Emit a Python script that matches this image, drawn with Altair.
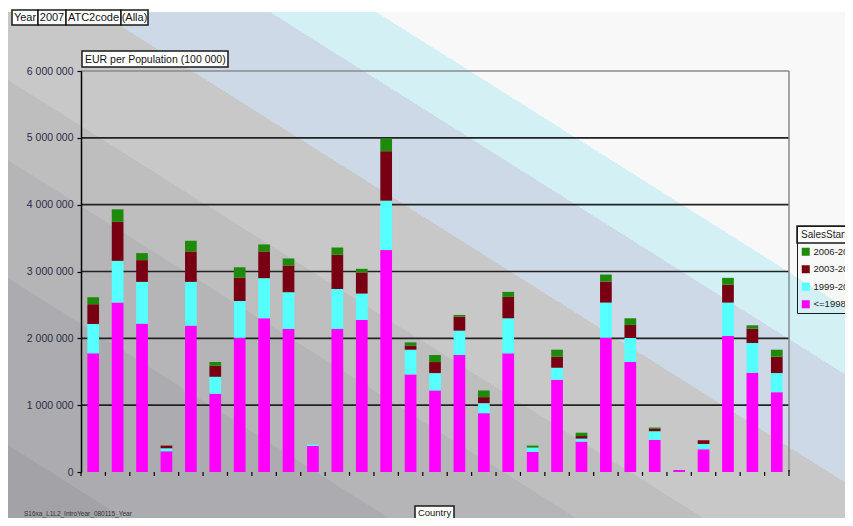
import altair as alt
import pandas as pd

# ---------------- data ----------------
countries = ["All", "AT", "BE", "BG", "CH", "CZ", "DE", "DK", "E13", "EE", "ES", "FI", "FR",
             "GB", "GR", "HU", "IE", "IT", "LT", "LU", "LV", "NL", "NO", "PL", "PT", "RO",
             "SE", "SI", "SK"]
sales_start = ["<=1998", "1999-2002", "2003-2005", "2006-2007"]
v_le1998 = [1775000, 2535000, 2220000, 310000, 2190000, 1170000, 2010000, 2300000, 2140000,
            390000, 2140000, 2275000, 3320000, 1460000, 1220000, 1750000, 880000, 1775000,
            300000, 1380000, 455000, 2010000, 1645000, 480000, 30000, 340000, 2035000,
            1485000, 1195000]
v_1999 = [440000, 625000, 625000, 45000, 655000, 255000, 550000, 600000, 550000,
          20000, 600000, 395000, 740000, 370000, 260000, 365000, 150000, 525000,
          65000, 180000, 45000, 525000, 360000, 130000, 0, 80000, 500000,
          445000, 285000]
v_2003 = [295000, 585000, 325000, 40000, 455000, 165000, 345000, 400000, 400000,
          0, 510000, 315000, 740000, 60000, 165000, 210000, 90000, 320000,
          0, 165000, 38000, 315000, 195000, 35000, 0, 55000, 265000,
          215000, 245000]
v_2006 = [105000, 185000, 105000, 0, 160000, 55000, 160000, 105000, 105000,
          0, 110000, 55000, 190000, 50000, 105000, 25000, 100000, 75000,
          30000, 105000, 50000, 105000, 100000, 20000, 0, 0, 105000,
          50000, 105000]
series_colors = ["#ff00ff", "#55ffff", "#780012", "#1e8a0c"]
y_ticks = [0, 1000000, 2000000, 3000000, 4000000, 5000000, 6000000]
header_labels = ["Year", "2007", "ATC2code", "(Alla)"]
y_title = "EUR per Population (100 000)"
x_title = "Country"
legend_title = "SalesStart"
footnote = "S16xa_L1L2_IntroYear_080115_Year"

# ---------------- layout / style ----------------
W, H = 708, 401
PAD = {"left": 73, "top": 63, "right": 56, "bottom": 46}
FONT = "Liberation Sans"

rows = []
series_values = [v_le1998, v_1999, v_2003, v_2006]
for i, c in enumerate(countries):
    for k, s in enumerate(sales_start):
        rows.append({"Country": c, "SalesStart": s, "Value": series_values[k][i], "rank": k})
df = pd.DataFrame(rows)

yscale = alt.Scale(domain=[y_ticks[0], y_ticks[-1]], nice=False)
xscale = alt.Scale(domain=countries, paddingInner=0, paddingOuter=0)

y_axis = alt.Axis(title=None, values=y_ticks, grid=False, domainColor="black", domainWidth=1.5,
                  tickColor="black", tickSize=4, tickWidth=1.2, labelFont=FONT, labelFontSize=10.5,
                  labelColor="#2b2b45", labelPadding=4, zindex=1,
                  labelExpr="replace(replace(format(datum.value, ','), ',', ' '), ',', ' ')")

# ---- diagonal banded background (gradient) ----
X0, Y0 = 8, 12          # page coords of background rect
BW, BH = 837, 506
slope = 0.63
a = slope * BW / BH
k = (a + 1) / (a * a + 1)
def t_of(c):
    rhs = (c + slope * X0 - Y0) / BH
    return max(0.0, min(1.0, (1 - rhs) / (k * (a * a + 1))))
band_c = [440, 273, 155, 75, -50, -158, -225]
band_cols = ["#a3a3a7", "#acacb0", "#b5b5b8", "#bebebf", "#c8c8c8", "#cdd9e7", "#d3f1f4", "#f8f8f8"]
stops = [alt.GradientStop(offset=0, color=band_cols[0])]
for i, c in enumerate(band_c):
    t = t_of(c)
    stops.append(alt.GradientStop(offset=t, color=band_cols[i]))
    stops.append(alt.GradientStop(offset=t, color=band_cols[i + 1]))
stops.append(alt.GradientStop(offset=1, color=band_cols[-1]))
grad = alt.LinearGradient(gradient="linear", stops=stops, x1=0, y1=1, x2=a * k, y2=1 - k)

one = pd.DataFrame({"d": [0]})
ox, oy = PAD["left"] + 8, PAD["top"] + 8   # plot origin on page
bg = alt.Chart(one).mark_rect(fill=grad, strokeWidth=0).encode(
    x=alt.value(X0 - ox), x2=alt.value(X0 - ox + BW),
    y=alt.value(Y0 - oy), y2=alt.value(Y0 - oy + BH))

grid = alt.Chart(pd.DataFrame({"v": y_ticks[1:-1]})).mark_rule(color="#222222", strokeWidth=1.7).encode(
    y=alt.Y("v:Q", scale=yscale, axis=y_axis))
top_frame = alt.Chart(pd.DataFrame({"v": y_ticks[-1:]})).mark_rule(color="#8a8a8a", strokeWidth=1.5).encode(
    y=alt.Y("v:Q", scale=yscale, axis=y_axis))
right_frame = alt.Chart(one).mark_rule(color="#8a8a8a", strokeWidth=1.5).encode(
    x=alt.value(W), y=alt.value(0), y2=alt.value(H))

bars = alt.Chart(df).mark_bar(width=alt.RelativeBandSize(0.48)).encode(
    x=alt.X("Country:N", scale=xscale, sort=countries,
            axis=alt.Axis(title=None, labelAngle=0, ticks=False, domainColor="black", domainWidth=1.5,
                          labelFont=FONT, labelFontSize=10.5, labelColor="#222222", labelPadding=13,
                          grid=False, zindex=1)),
    y=alt.Y("Value:Q", stack="zero", scale=yscale, axis=y_axis),
    color=alt.Color("SalesStart:N",
                    scale=alt.Scale(domain=sales_start[::-1], range=series_colors[::-1]),
                    legend=alt.Legend(title=legend_title, orient="none", legendX=716, legendY=155,
                                      strokeColor="#1a1a1a", padding=4, titleFont=FONT, titleFontSize=10,
                                      titleFontWeight="normal", titleColor="#222", titlePadding=7,
                                      labelFont=FONT, labelFontSize=9.5, labelColor="#222", labelOffset=3,
                                      symbolType="square", symbolSize=64, symbolStrokeWidth=0,
                                      rowPadding=6.5, labelLimit=200)),
    order=alt.Order("rank:Q", sort="ascending"),
)

xticks = alt.Chart(pd.DataFrame({"Country": countries})).mark_rule(color="black", strokeWidth=1.2).encode(
    x=alt.X("Country:N", scale=xscale, sort=countries, bandPosition=0, axis=None),
    y=alt.value(H), y2=alt.value(H + 4))
xtick_end = alt.Chart(one).mark_rule(color="black", strokeWidth=1.2).encode(
    x=alt.value(W), y=alt.value(H - 2), y2=alt.value(H + 4))

def box(x0, x1, y0, y1, text, size=11, align="center", ty=None):
    d = pd.DataFrame({"t": [text]})
    r = alt.Chart(d).mark_rect(fill="white", stroke="#1a1a1a", strokeWidth=1.5).encode(
        x=alt.value(x0), x2=alt.value(x1), y=alt.value(y0), y2=alt.value(y1))
    tx = (x0 + x1) / 2 if align == "center" else x0 + 3
    tyv = (y0 + y1) / 2 + 0.5 if ty is None else ty
    t = alt.Chart(d).mark_text(align=align, baseline="middle", font=FONT, fontSize=size, color="#111").encode(
        x=alt.value(tx), y=alt.value(tyv), text="t:N")
    return [r, t]

layers = [bg, grid, top_frame, right_frame, bars, xticks, xtick_end]
hx = [-69, -43, -15, 40, 67]
for i, lab in enumerate(header_labels):
    layers += box(hx[i], hx[i + 1], -61, -46, lab, size=11)
layers += box(1, 147, -20, -4, y_title, size=10.5, align="left")
layers += box(334, 373, 435, 452, x_title, size=9.5, ty=441.5)
layers += box(716, 800, 155, 172, "", size=10)
layers.append(alt.Chart(pd.DataFrame({"t": [footnote]})).mark_text(
    align="left", baseline="middle", font=FONT, fontSize=6.5, color="#333").encode(
    x=alt.value(-57), y=alt.value(443), text="t:N"))

chart = alt.layer(*layers).properties(
    width=W, height=H, padding=PAD, autosize=alt.AutoSizeParams(type="none"),
    background="white",
).configure_view(strokeWidth=0).configure(font=FONT)

chart.save("out.html", embed_options={"renderer": "svg", "actions": False})
